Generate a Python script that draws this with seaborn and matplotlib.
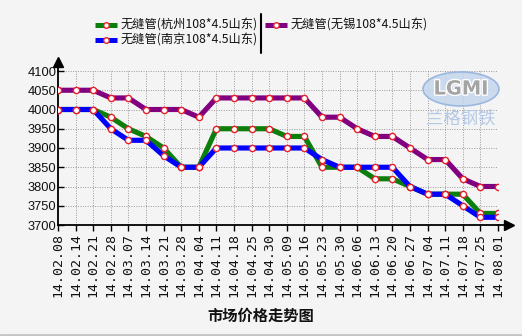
import matplotlib
matplotlib.use("Agg")
import matplotlib.pyplot as plt
import matplotlib.patheffects as pe
import pandas as pd
import seaborn as sns
from matplotlib.lines import Line2D
from matplotlib.patches import Ellipse

# Weekly quotes (yuan/ton) for 108*4.5 seamless pipe, Shandong origin
dates = ["14.02.08", "14.02.14", "14.02.21", "14.02.28", "14.03.07", "14.03.14",
         "14.03.21", "14.03.28", "14.04.04", "14.04.11", "14.04.18", "14.04.25",
         "14.04.30", "14.05.09", "14.05.16", "14.05.23", "14.05.30", "14.06.06",
         "14.06.13", "14.06.20", "14.06.27", "14.07.04", "14.07.11", "14.07.18",
         "14.07.25", "14.08.01"]
hangzhou = [4000, 4000, 4000, 3980, 3950, 3930, 3900, 3850, 3850, 3950, 3950, 3950, 3950,
            3930, 3930, 3850, 3850, 3850, 3820, 3820, 3800, 3780, 3780, 3780, 3730, 3730]
nanjing = [4000, 4000, 4000, 3950, 3920, 3920, 3880, 3850, 3850, 3900, 3900, 3900, 3900,
           3900, 3900, 3870, 3850, 3850, 3850, 3850, 3800, 3780, 3780, 3750, 3720, 3720]
wuxi = [4050, 4050, 4050, 4030, 4030, 4000, 4000, 4000, 3980, 4030, 4030, 4030, 4030,
        4030, 4030, 3980, 3980, 3950, 3930, 3930, 3900, 3870, 3870, 3820, 3800, 3800]

series_names = ["无缝管(杭州108*4.5山东)", "无缝管(南京108*4.5山东)", "无缝管(无锡108*4.5山东)"]
series_colors = ["#0b7f0b", "#0000ff", "#800080"]
y_ticks = [3700, 3750, 3800, 3850, 3900, 3950, 4000, 4050, 4100]
title = "市场价格走势图"

sns.set_theme(style="white")
plt.rcParams["font.family"] = ["Noto Sans CJK SC", "DejaVu Sans"]

BG = "#f4f4f4"
W, H = 522, 336
fig = plt.figure(figsize=(W / 100, H / 100), dpi=100, facecolor=BG)
ax = fig.add_axes([58 / W, 1 - 225 / H, 440 / W, 154 / H])
ax.set_facecolor(BG)

df = pd.DataFrame({"pos": range(len(dates)), "date": dates,
                   series_names[0]: hangzhou, series_names[1]: nanjing,
                   series_names[2]: wuxi})
long = df.melt(id_vars=["pos", "date"], value_vars=series_names,
               var_name="series", value_name="price")
palette = dict(zip(series_names, series_colors))

sns.lineplot(data=long, x="pos", y="price", hue="series", hue_order=series_names,
             palette=palette, linewidth=3.7, legend=False, ax=ax,
             solid_joinstyle="round", solid_capstyle="round", zorder=3)
sns.scatterplot(data=long, x="pos", y="price", color="white", edgecolor="#e8202a",
                linewidth=1.0, s=20, legend=False, ax=ax, zorder=4)

ax.set_xlim(0, len(dates) - 1)
ax.set_ylim(y_ticks[0], y_ticks[-1])
ax.set_xticks(range(len(dates)))
ax.set_xticklabels(dates, rotation=90, fontsize=9.5, family="DejaVu Sans Mono")
ax.set_yticks(y_ticks)
ax.set_yticklabels([str(v) for v in y_ticks], fontsize=9.3, family="Liberation Sans")
ax.set_xlabel("")
ax.set_ylabel("")
ax.tick_params(axis="x", bottom=True, direction="out", length=4, width=1,
               color="black", pad=2, labelcolor="#111111")
ax.tick_params(axis="y", left=True, direction="in", length=4, width=1,
               color="black", pad=1, labelcolor="#111111")
ax.grid(True, linestyle=(0, (1, 1.5)), color="#9a9a9a", linewidth=0.7)
for side in ("top", "right"):
    ax.spines[side].set_visible(False)
for side in ("left", "bottom"):
    ax.spines[side].set_color("black")
    ax.spines[side].set_linewidth(1.3)

# axis arrows
ax.plot([0, 0], [1, 1.04], transform=ax.transAxes, color="black", lw=1.3, clip_on=False)
ax.plot([0], [1.058], transform=ax.transAxes, marker="^", markersize=7.5,
        color="black", clip_on=False)
ax.plot([1, 1.015], [0, 0], transform=ax.transAxes, color="black", lw=1.3, clip_on=False)
ax.plot([1.024], [0], transform=ax.transAxes, marker=">", markersize=7.5,
        color="black", clip_on=False)


def fx(px):
    return px / W


def fy(py):
    return 1 - py / H


# legend
legend_items = [(95, 25, 0), (95, 40, 1), (265, 25, 2)]
for x0, y0, k in legend_items:
    fig.add_artist(Line2D([fx(x0), fx(x0 + 22)], [fy(y0), fy(y0)],
                          color=series_colors[k], lw=3.6, solid_capstyle="butt",
                          transform=fig.transFigure))
    fig.add_artist(Line2D([fx(x0 + 11)], [fy(y0)], marker="o", markersize=4,
                          markerfacecolor="white", markeredgecolor="#e8202a",
                          markeredgewidth=1.0, transform=fig.transFigure))
    fig.text(fx(x0 + 26), fy(y0), series_names[k], ha="left", va="center",
             fontsize=8.8, color="#111111")
fig.add_artist(Line2D([fx(261), fx(261)], [fy(14), fy(53)], color="black", lw=1.5,
                      transform=fig.transFigure))

# watermark logo
fig.add_artist(Ellipse((fx(461), fy(89)), 76 / W, 34 / H, transform=fig.transFigure,
                       facecolor="#c5d6ee", edgecolor="#8fb0dd", lw=1.2, alpha=0.85,
                       zorder=1))
fig.text(fx(461), fy(89), "LGMI", ha="center", va="center", fontsize=14,
         fontweight="bold", color="#a4a4a4", family="DejaVu Sans",
         path_effects=[pe.withStroke(linewidth=2, foreground="white")])
fig.text(fx(461), fy(119), "兰格钢铁", ha="center", va="center", fontsize=12.5,
         color="#b3c8e6")

fig.text(fx(261), fy(316), title, ha="center", va="center", fontsize=11,
         fontweight="bold", color="#111111")

# bottom frame edge
fig.add_artist(Line2D([0, 1], [fy(334.5), fy(334.5)], color="#c4c4c4", lw=2,
                      transform=fig.transFigure))

fig.savefig("out.png", dpi=100, facecolor=BG)
